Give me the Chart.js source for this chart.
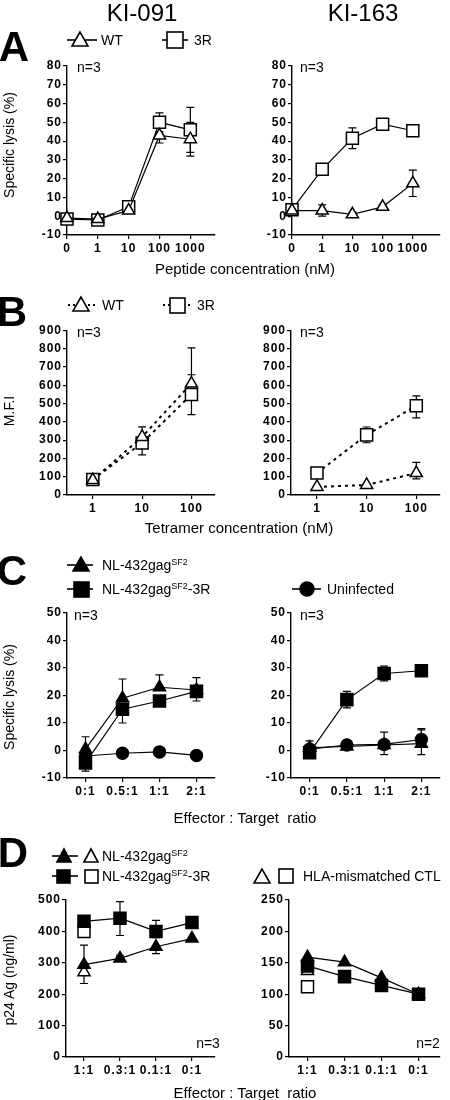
<!DOCTYPE html>
<html>
<head>
<meta charset="utf-8">
<script src="https://cdn.jsdelivr.net/npm/chart.js@4.4.0/dist/chart.umd.min.js"></script>
<style>
body { margin: 0; background: #fff; }
#fig { position: relative; width: 450px; height: 1100px; font-family: "Liberation Sans", Arial, sans-serif; color: #000; overflow: hidden; background: #fff; }
#fig canvas { position: absolute; }
.t { position: absolute; white-space: nowrap; transform: translate(-50%, -50%); }
.l { position: absolute; white-space: nowrap; transform: translateY(-50%); font-size: 14px; }
.yt { position: absolute; white-space: nowrap; transform: translate(-50%, -50%) rotate(-90deg); font-size: 14px; }
.big { font-weight: bold; font-size: 42px; }
.xt { font-size: 15px; }
sup { font-size: 9px; vertical-align: 5px; line-height: 0; }
svg { position: absolute; left: 0; top: 0; }
</style>
</head>
<body>
<div id="fig">
  <canvas id="a1" width="225" height="210" style="left:0;top:50px"></canvas>
  <canvas id="a2" width="225" height="210" style="left:225px;top:50px"></canvas>
  <canvas id="b1" width="225" height="205" style="left:0;top:315px"></canvas>
  <canvas id="b2" width="225" height="205" style="left:225px;top:315px"></canvas>
  <canvas id="c1" width="225" height="205" style="left:0;top:598px"></canvas>
  <canvas id="c2" width="225" height="205" style="left:225px;top:598px"></canvas>
  <canvas id="d1" width="225" height="200" style="left:0;top:885px"></canvas>
  <canvas id="d2" width="225" height="200" style="left:225px;top:885px"></canvas>

  <svg width="450" height="1100">
    <g stroke="#000" stroke-width="1.6">
      <!-- A legend -->
      <line x1="67" y1="40" x2="97" y2="40"/>
      <polygon points="80,32 72,46 88,46" fill="#fff"/>
      <line x1="162" y1="40" x2="188" y2="40"/>
      <rect x="167" y="32" width="16" height="16" fill="#fff"/>
      <!-- B legend -->
      <line x1="68" y1="305" x2="97" y2="305" stroke-dasharray="2,3" stroke-width="2"/>
      <polygon points="81,297 73,311 89,311" fill="#fff"/>
      <line x1="163" y1="305" x2="193" y2="305" stroke-dasharray="2,3" stroke-width="2"/>
      <rect x="170" y="298" width="15" height="15" fill="#fff"/>
      <!-- C legend -->
      <line x1="67" y1="565" x2="93" y2="565"/>
      <polygon points="81,557 73,571 89,571" fill="#000"/>
      <line x1="67" y1="589" x2="93" y2="589"/>
      <rect x="74" y="582" width="15" height="15" fill="#000"/>
      <line x1="292" y1="589" x2="321" y2="589"/>
      <circle cx="307" cy="589" r="7" fill="#000"/>
      <!-- D legend -->
      <line x1="52" y1="856" x2="78" y2="856"/>
      <polygon points="64,849 57,862 71,862" fill="#000"/>
      <polygon points="91,849 84,862 98,862" fill="#fff"/>
      <line x1="52" y1="876" x2="78" y2="876"/>
      <rect x="57" y="870" width="13" height="13" fill="#000"/>
      <rect x="85" y="870" width="13" height="13" fill="#fff"/>
      <polygon points="262,869 254,883 270,883" fill="#fff"/>
      <rect x="279" y="869" width="14" height="14" fill="#fff"/>
    </g>
  </svg>

  <div class="t" style="left:142px;top:13px;font-size:24px">KI-091</div>
  <div class="t" style="left:363px;top:13px;font-size:24px">KI-163</div>

  <div class="t big" style="left:14px;top:47px">A</div>
  <div class="t big" style="left:12px;top:312px">B</div>
  <div class="t big" style="left:12px;top:571px">C</div>
  <div class="t big" style="left:13px;top:853px">D</div>

  <div class="l" style="left:101px;top:40px">WT</div>
  <div class="l" style="left:194px;top:40px">3R</div>
  <div class="l" style="left:102px;top:305px">WT</div>
  <div class="l" style="left:197px;top:305px">3R</div>
  <div class="l" style="left:102px;top:565px">NL-432gag<sup>SF2</sup></div>
  <div class="l" style="left:102px;top:589px">NL-432gag<sup>SF2</sup>-3R</div>
  <div class="l" style="left:327px;top:589px">Uninfected</div>
  <div class="l" style="left:102px;top:856px">NL-432gag<sup>SF2</sup></div>
  <div class="l" style="left:102px;top:876px">NL-432gag<sup>SF2</sup>-3R</div>
  <div class="l" style="left:303px;top:876px">HLA-mismatched CTL</div>

  <div class="l" style="left:77px;top:67px">n=3</div>
  <div class="l" style="left:300px;top:67px">n=3</div>
  <div class="l" style="left:77px;top:332px">n=3</div>
  <div class="l" style="left:300px;top:332px">n=3</div>
  <div class="l" style="left:74px;top:615px">n=3</div>
  <div class="l" style="left:300px;top:615px">n=3</div>
  <div class="t" style="left:208px;top:1043px;font-size:14px">n=3</div>
  <div class="t" style="left:428px;top:1043px;font-size:14px">n=2</div>

  <div class="yt" style="left:9px;top:145px">Specific lysis (%)</div>
  <div class="yt" style="left:9px;top:411px">M.F.I</div>
  <div class="yt" style="left:9px;top:697px">Specific lysis (%)</div>
  <div class="yt" style="left:9px;top:980px">p24 Ag (ng/ml)</div>

  <div class="t xt" style="left:245px;top:268px">Peptide concentration (nM)</div>
  <div class="t xt" style="left:239px;top:527px">Tetramer concentration (nM)</div>
  <div class="t xt" style="left:245px;top:817px">Effector : Target&nbsp; ratio</div>
  <div class="t xt" style="left:245px;top:1092px">Effector : Target&nbsp; ratio</div>
</div>

<script>
// ---- data ----
const pepLabels = ['0', '1', '10', '100', '1000'];
const a091WT = [-1, -1.5, 3, 43, 41];
const a091WTerr = [1, 1, 1, 4, 9];
const a0913R = [-1.5, -2, 5, 50, 46];
const a0913Rerr = [1, 1, 1.5, 5, 12];
const a163WT = [3, 3, 1, 5, 17.5];
const a163WTerr = [1, 3, 1, 1, 7];
const a1633R = [3.5, 25, 41.5, 49, 45.5];
const a1633Rerr = [1, 3, 5.5, 1, 1];

const tetConc = [1, 10, 100];
const b091WT = [82, 318, 610];
const b091WTup = [10, 55, 195];
const b091WTdn = [10, 0, 0];
const b0913R = [85, 285, 550];
const b0913Rup = [10, 0, 108];
const b0913Rdn = [10, 65, 110];
const b163WT = [44, 55, 120];
const b163WTup = [5, 5, 58];
const b163WTdn = [5, 5, 32];
const b1633R = [120, 329, 488];
const b1633Rup = [8, 43, 54];
const b1633Rdn = [8, 43, 66];

const etLabelsC = ['0:1', '0.5:1', '1:1', '2:1'];
const c091Gag = [0.5, 19, 23, 22];
const c091GagUp = [4.5, 7, 4.5, 4.5];
const c0913R = [-4.5, 15, 18, 21.5];
const c0913RDn = [3, 5, 0, 3.5];
const c091Uninf = [-2, -1, -0.5, -1.8];
const c163Gag = [1, 1.5, 2, 2.5];
const c163GagUp = [2.5, 0, 4.7, 5];
const c163GagDn = [0, 0, 3.5, 4];
const c1633R = [-0.8, 18.5, 28, 29];
const c1633RErr = [0, 3, 2.7, 0];
const c163Uninf = [0.5, 2, 2.2, 4];
const c163UninfUp = [0, 0, 0, 4];

const etLabelsD = ['1:1', '0.3:1', '0.1:1', '0:1'];
const d091Gag = [294, 314, 351, 377];
const d091GagUp = [62, 10, 0, 0];
const d091GagDn = [60, 0, 22, 0];
const d0913R = [432, 442, 400, 428];
const d0913RUp = [12, 53, 35, 0];
const d0913RDn = [0, 55, 20, 0];
const d091GagMis = [270];
const d0913RMis = [400];
const d163Gag = [159, 151, 126, 100];
const d1633R = [145, 128, 114, 100];
const d163GagMis = [137];
const d1633RMis = [112];

// ---- styles ----
const tickFont = { family: 'Liberation Sans', size: 12, weight: 'bold' };
const OPEN_TRI = { shape: 'triangle', r: 7, fill: '#fff' };
const OPEN_SQ = { shape: 'rect', r: 8.5, fill: '#fff' };
const FILL_TRI = { shape: 'triangle', r: 7, fill: '#000' };
const FILL_SQ = { shape: 'rect', r: 8.5, fill: '#000' };
const FILL_CIRC = { shape: 'circle', r: 6, fill: '#000' };

function series(vals, st, opts) {
  opts = opts || {};
  const xs = opts.xs;
  return {
    data: vals.map((v, i) => ({ x: xs ? xs[i] : i, y: v })),
    borderColor: '#000',
    borderWidth: opts.lw || 1.2,
    borderDash: opts.dash || [],
    showLine: opts.line !== false,
    tension: 0,
    clip: false,
    pointStyle: st.shape,
    pointRadius: st.r,
    pointBorderWidth: 1.5,
    pointBorderColor: '#000',
    pointBackgroundColor: st.fill,
    errUp: opts.up || opts.err,
    errDn: opts.dn || opts.err
  };
}

// wide-set tick digits like the original
const spacing = {
  id: 'spacing',
  beforeDraw(chart) { chart.ctx.letterSpacing = '1px'; }
};

// error bars drawn through the chart's scales, behind the markers
const errorBars = {
  id: 'errorBars',
  beforeDatasetsDraw(chart) {
    const ctx = chart.ctx;
    const xs = chart.scales.x, ys = chart.scales.y;
    ctx.save();
    ctx.strokeStyle = '#000';
    ctx.lineWidth = 1.2;
    chart.data.datasets.forEach(ds => {
      ds.data.forEach((d, j) => {
        const up = ds.errUp ? ds.errUp[j] : 0;
        const dn = ds.errDn ? ds.errDn[j] : 0;
        if (!up && !dn) return;
        const px = xs.getPixelForValue(d.x);
        const top = ys.getPixelForValue(d.y + (up || 0));
        const bot = ys.getPixelForValue(d.y - (dn || 0));
        ctx.beginPath();
        ctx.moveTo(px, top); ctx.lineTo(px, bot);
        if (up) { ctx.moveTo(px - 4, top); ctx.lineTo(px + 4, top); }
        if (dn) { ctx.moveTo(px - 4, bot); ctx.lineTo(px + 4, bot); }
        ctx.stroke();
      });
    });
    ctx.restore();
  }
};

const gridOpt = { display: true, drawOnChartArea: false, drawTicks: true, tickLength: 4, color: '#000', lineWidth: 1.2 };
const borderOpt = { display: true, color: '#000', width: 1.4 };

function makeChart(id, p) {
  const xScale = {
    type: p.xType || 'linear',
    min: p.xMin, max: p.xMax,
    afterBuildTicks: s => { s.ticks = p.xTicks.map(v => ({ value: v })); },
    afterFit: s => { s.height = p.xH; },
    ticks: { font: tickFont, color: '#000', padding: 2, autoSkip: false, maxRotation: 0,
             callback: p.xLabel },
    grid: gridOpt,
    border: borderOpt
  };
  const yScale = {
    type: 'linear',
    min: p.yMin, max: p.yMax,
    afterFit: s => { s.width = p.yW; },
    ticks: { stepSize: p.yStep, font: tickFont, color: '#000', padding: 1, autoSkip: false },
    grid: gridOpt,
    border: borderOpt
  };
  return new Chart(document.getElementById(id), {
    type: 'line',
    data: { datasets: p.datasets },
    options: {
      responsive: false,
      animation: false,
      devicePixelRatio: 1,
      events: [],
      layout: { padding: { top: p.padTop, right: p.padRight, left: 0, bottom: 0 } },
      plugins: { legend: { display: false }, tooltip: { enabled: false } },
      scales: { x: xScale, y: yScale }
    },
    plugins: [spacing, errorBars]
  });
}

const idx5 = [0, 1, 2, 3, 4];
const idx4 = [0, 1, 2, 3];

// A
makeChart('a1', {
  xMin: 0, xMax: 4.8, xTicks: idx5, xLabel: v => pepLabels[v], xH: 25,
  yMin: -10, yMax: 80, yStep: 10, yW: 67, padTop: 16, padRight: 7,
  datasets: [
    series(a091WT, OPEN_TRI, { err: a091WTerr }),
    series(a0913R, OPEN_SQ, { err: a0913Rerr })
  ]
});
makeChart('a2', {
  xMin: 0, xMax: 4.9, xTicks: idx5, xLabel: v => pepLabels[v], xH: 25,
  yMin: -10, yMax: 80, yStep: 10, yW: 67, padTop: 16, padRight: 2,
  datasets: [
    series(a163WT, OPEN_TRI, { err: a163WTerr }),
    series(a1633R, OPEN_SQ, { err: a1633Rerr })
  ]
});

// B
const dotted = [3, 4];
makeChart('b1', {
  xType: 'logarithmic', xMin: 0.316, xMax: 300, xTicks: tetConc, xLabel: v => String(v), xH: 25,
  yMin: 0, yMax: 900, yStep: 100, yW: 67, padTop: 15.5, padRight: 3,
  datasets: [
    series(b091WT, OPEN_TRI, { xs: tetConc, dash: dotted, lw: 2, up: b091WTup, dn: b091WTdn }),
    series(b0913R, OPEN_SQ, { xs: tetConc, dash: dotted, lw: 2, up: b0913Rup, dn: b0913Rdn })
  ]
});
makeChart('b2', {
  xType: 'logarithmic', xMin: 0.316, xMax: 300, xTicks: tetConc, xLabel: v => String(v), xH: 25,
  yMin: 0, yMax: 900, yStep: 100, yW: 66, padTop: 15.5, padRight: 5,
  datasets: [
    series(b163WT, OPEN_TRI, { xs: tetConc, dash: dotted, lw: 2, up: b163WTup, dn: b163WTdn }),
    series(b1633R, OPEN_SQ, { xs: tetConc, dash: dotted, lw: 2, up: b1633Rup, dn: b1633Rdn })
  ]
});

// C
makeChart('c1', {
  xMin: -0.5, xMax: 3.5, xTicks: idx4, xLabel: v => etLabelsC[v], xH: 25,
  yMin: -10, yMax: 50, yStep: 10, yW: 67, padTop: 15, padRight: 3,
  datasets: [
    series(c0913R, FILL_SQ, { dn: c0913RDn }),
    series(c091Gag, FILL_TRI, { up: c091GagUp }),
    series(c091Uninf, FILL_CIRC, {})
  ]
});
makeChart('c2', {
  xMin: -0.5, xMax: 3.5, xTicks: idx4, xLabel: v => etLabelsC[v], xH: 25,
  yMin: -10, yMax: 50, yStep: 10, yW: 66, padTop: 15, padRight: 3,
  datasets: [
    series(c1633R, FILL_SQ, { err: c1633RErr }),
    series(c163Uninf, FILL_CIRC, { up: c163UninfUp }),
    series(c163Gag, FILL_TRI, { up: c163GagUp, dn: c163GagDn })
  ]
});

// D
makeChart('d1', {
  xMin: -0.5, xMax: 3.64, xTicks: idx4, xLabel: v => etLabelsD[v], xH: 28,
  yMin: 0, yMax: 500, yStep: 100, yW: 66, padTop: 15, padRight: 3,
  datasets: [
    series(d091Gag, FILL_TRI, { up: d091GagUp, dn: d091GagDn }),
    series(d0913R, FILL_SQ, { up: d0913RUp, dn: d0913RDn }),
    series(d0913RMis, OPEN_SQ, { line: false }),
    series(d091GagMis, OPEN_TRI, { line: false })
  ]
});
makeChart('d2', {
  xMin: -0.5, xMax: 3.58, xTicks: idx4, xLabel: v => etLabelsD[v], xH: 28,
  yMin: 0, yMax: 250, yStep: 50, yW: 64, padTop: 15, padRight: 3,
  datasets: [
    series(d163Gag, FILL_TRI, {}),
    series(d1633R, FILL_SQ, {}),
    series(d1633RMis, OPEN_SQ, { line: false }),
    series(d163GagMis, OPEN_TRI, { line: false })
  ]
});
</script>
</body>
</html>
